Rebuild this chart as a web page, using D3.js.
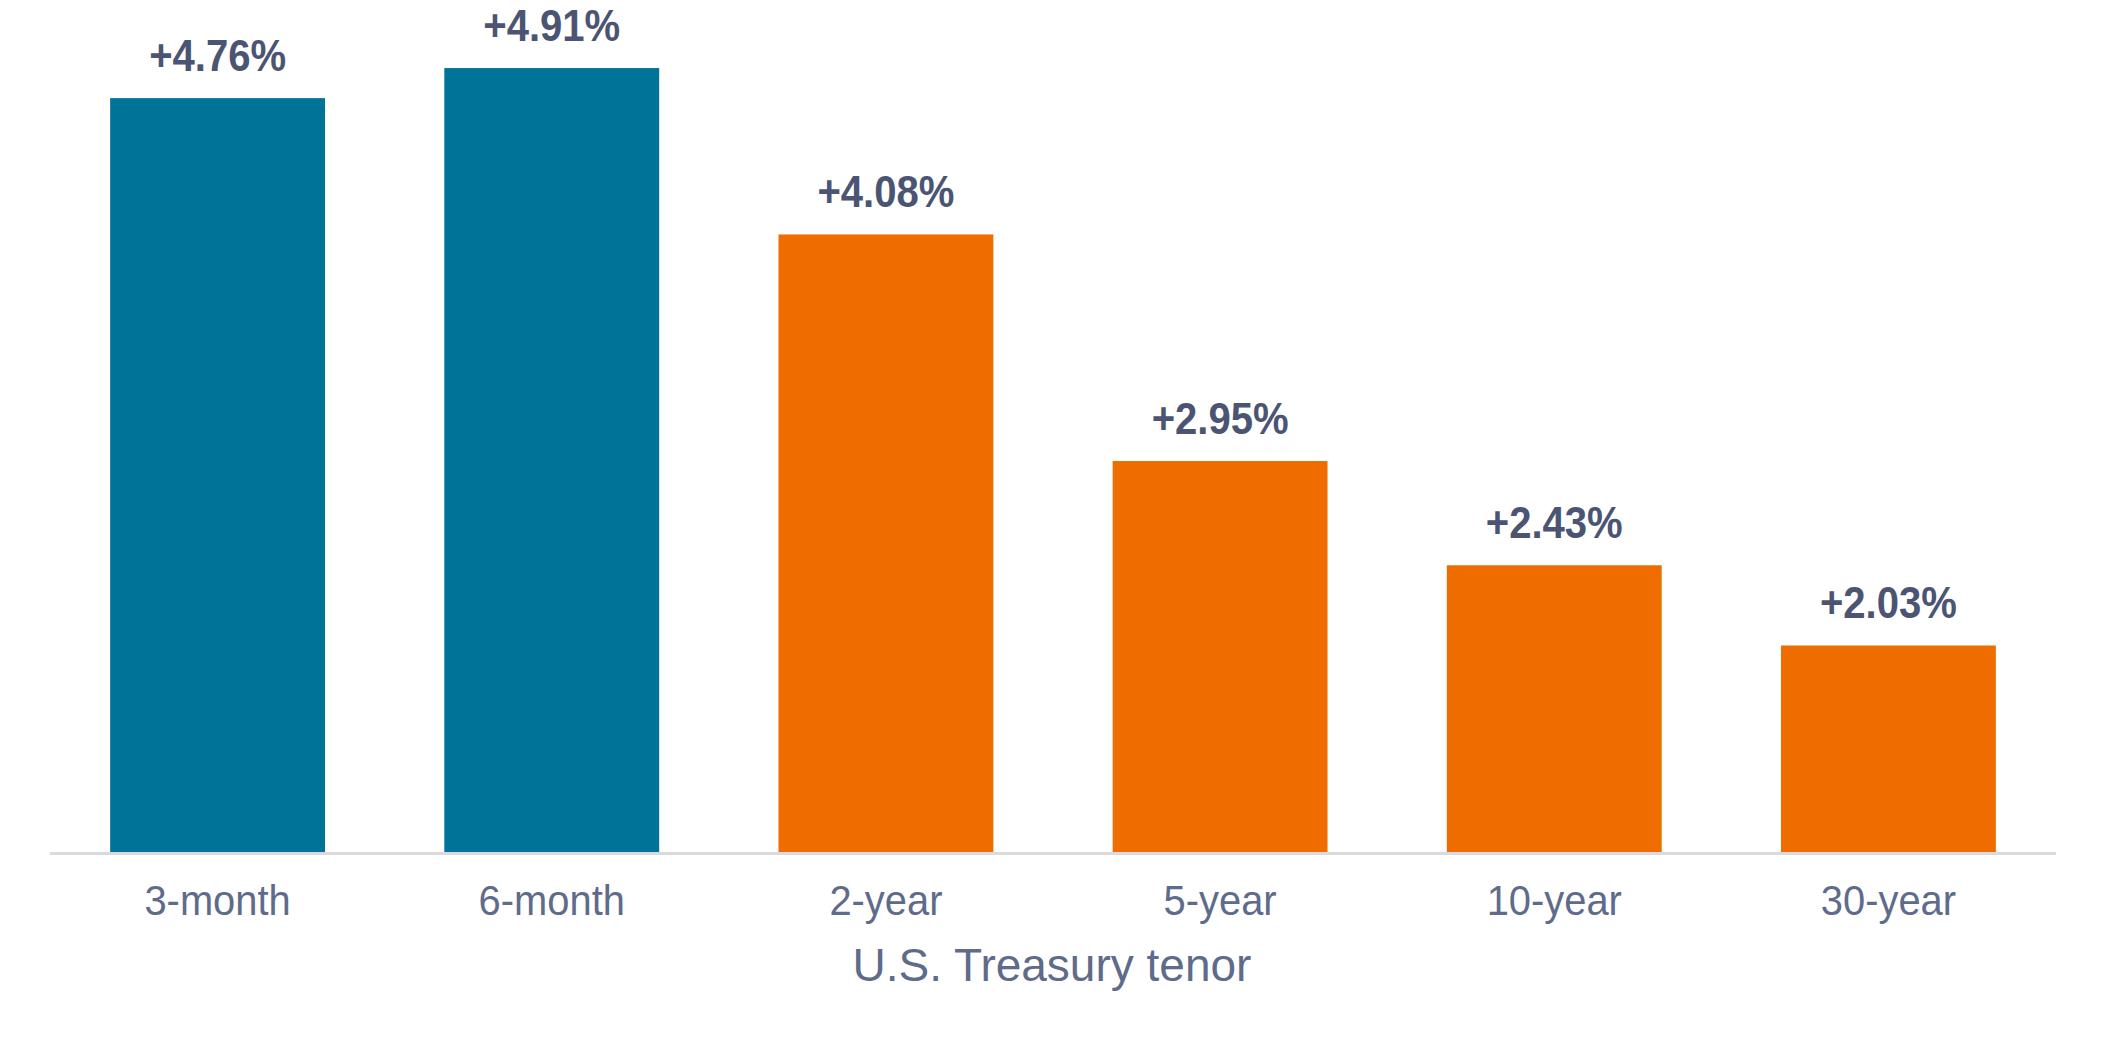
<!DOCTYPE html>
<html>
<head>
<meta charset="utf-8">
<script src="https://cdn.jsdelivr.net/npm/d3@7"></script>
<style>
  body { margin: 0; background: #fff; }
  text { font-family: "Liberation Sans", Arial, sans-serif; }
</style>
</head>
<body>
<div id="chart"></div>
<script>
// tenor categories and values
var tenors = ["3-month", "6-month", "2-year", "5-year", "10-year", "30-year"];
var yields = [4.76, 4.91, 4.08, 2.95, 2.43, 2.03];
var barColors = ["#007398", "#007398", "#ef6c00", "#ef6c00", "#ef6c00", "#ef6c00"];
var axisTitle = "U.S. Treasury tenor";

var width = 2106, height = 1048;
var baseY = 852;

var svg = d3.select("#chart").append("svg")
  .attr("width", width)
  .attr("height", height);

// x band scale
var x = d3.scaleBand()
  .domain(tenors)
  .range([50, 2056])
  .paddingInner(0.357)
  .paddingOuter(0.18);

// value axis starts at 1, not zero
var y = d3.scaleLinear()
  .domain([1, 5.2])
  .range([baseY, baseY - 4.2 * 200.5]);

svg.append("g")
  .selectAll("rect")
  .data(yields)
  .enter().append("rect")
  .attr("x", function(d, i) { return x(tenors[i]); })
  .attr("width", x.bandwidth())
  .attr("y", function(d) { return y(d); })
  .attr("height", function(d) { return baseY - y(d); })
  .attr("fill", function(d, i) { return barColors[i]; });

// value labels, slightly condensed
svg.append("g")
  .selectAll("text")
  .data(yields)
  .enter().append("text")
  .attr("transform", function(d, i) {
    return "translate(" + (x(tenors[i]) + x.bandwidth() / 2) + "," + (y(d) - 27) + ") scale(0.89,1)";
  })
  .attr("text-anchor", "middle")
  .attr("font-size", 45)
  .attr("font-weight", "bold")
  .attr("fill", "#4b5573")
  .text(function(d) { return "+" + d.toFixed(2) + "%"; });

// category axis
var xAxis = svg.append("g")
  .attr("transform", "translate(0," + baseY + ")")
  .call(d3.axisBottom(x).tickSize(0).tickPadding(0));

xAxis.select(".domain")
  .attr("d", "M50,1.5H2056")
  .attr("stroke", "#d9d9de")
  .attr("stroke-width", 3);

xAxis.selectAll(".tick text")
  .attr("y", 63)
  .attr("dy", null)
  .attr("transform", "scale(0.95,1)")
  .attr("font-size", 42)
  .attr("fill", "#5f6b8b");

svg.append("text")
  .attr("x", 1052)
  .attr("y", 981)
  .attr("text-anchor", "middle")
  .attr("font-size", 46)
  .attr("fill", "#5f6b8b")
  .text(axisTitle);
</script>
</body>
</html>
